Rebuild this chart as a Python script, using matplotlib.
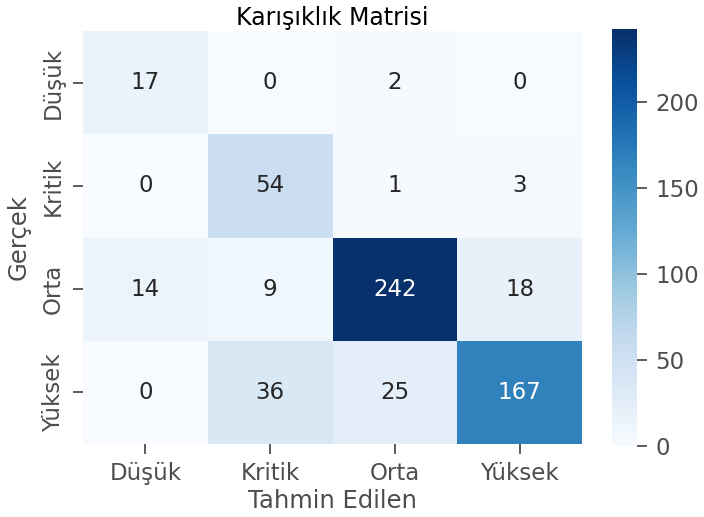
import matplotlib
matplotlib.use("Agg")
import matplotlib.pyplot as plt
import seaborn as sns
import numpy as np

labels = ["Düşük", "Kritik", "Orta", "Yüksek"]
row0 = [17, 0, 2, 0]
row1 = [0, 54, 1, 3]
row2 = [14, 9, 242, 18]
row3 = [0, 36, 25, 167]
cm = np.array([row0, row1, row2, row3])

sns.set_theme(style="ticks", font_scale=1.45)
plt.rcParams['font.family'] = ['DejaVu Sans']

fig = plt.figure(figsize=(7.04, 5.17), dpi=100)
ax = fig.add_axes([0.118, 0.141, 0.709, 0.799])
cax = fig.add_axes([0.869, 0.137, 0.036, 0.806])
sns.heatmap(cm, annot=True, fmt="d", cmap="Blues", ax=ax, cbar_ax=cax,
            xticklabels=labels, yticklabels=labels,
            annot_kws={"size": 16.5})
ax.set_title("Karışıklık Matrisi", fontsize=17, color="black", pad=4)
ax.set_xlabel("Tahmin Edilen", fontsize=17.5, labelpad=3)
ax.set_ylabel("Gerçek", fontsize=17.5, labelpad=8)
ax.tick_params(axis="both", labelsize=16.5, colors=".3", labelcolor=".3",
               length=7, width=1.3, pad=6)
cax.tick_params(labelsize=16.5, colors=".3", labelcolor=".3",
                length=7, width=1.3, pad=6)
ax.xaxis.label.set_color(".3")
ax.yaxis.label.set_color(".3")
fig.savefig("out.png", dpi=100)
